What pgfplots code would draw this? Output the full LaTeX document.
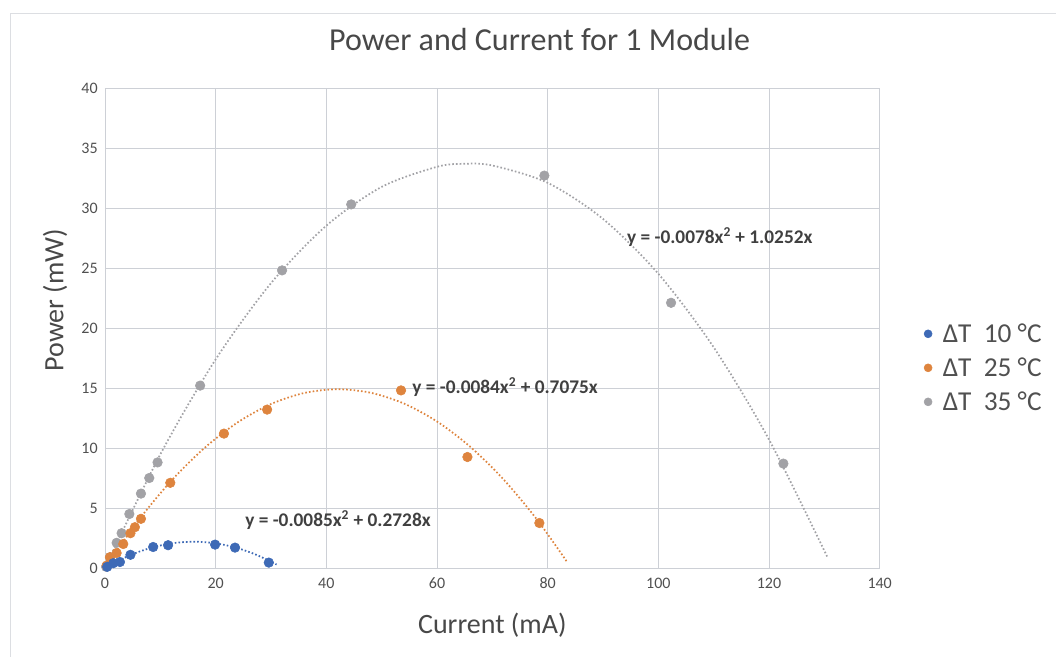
\documentclass[border=0pt]{standalone}
\usepackage{fontspec}
\setmainfont{Carlito}
\usepackage{pgfplots}
\pgfplotsset{compat=1.18}

\definecolor{sblue}{RGB}{62,106,182}
\definecolor{sorange}{RGB}{222,132,62}
\definecolor{sgray}{RGB}{162,162,166}
\definecolor{gridc}{RGB}{205,208,214}
\definecolor{txt}{RGB}{80,80,80}
\definecolor{eqc}{RGB}{64,64,64}

\begin{document}
\begin{tikzpicture}
% page frame (1px = 0.75pt)
\path[use as bounding box] (-78.75pt,-66.75pt) rectangle (713.25pt,426pt);
\draw[gridc!70, line width=0.8pt] (-71pt,416pt) -- (713.25pt,416pt);
\draw[gridc!70, line width=0.6pt] (-71pt,416pt) -- (-71pt,-66.75pt);

\begin{axis}[
  scale only axis,
  width=581pt, height=360pt,
  xmin=0, xmax=140, ymin=0, ymax=40,
  xtick={0,20,...,140}, ytick={0,5,...,40},
  grid=major,
  major grid style={gridc, line width=0.7pt},
  axis line style={gridc, line width=0.7pt},
  tick style={draw=none},
  /pgf/number format/assume math mode=true,
  ticklabel style={font=\fontsize{12}{12}\selectfont, text=txt},
  xticklabel style={yshift=-4pt},
  yticklabel style={xshift=-2pt},
  title={Power and Current for 1 Module},
  title style={at={(0.561,1)}, anchor=center, yshift=30pt,
    font=\fontsize{24}{24}\selectfont, text=txt!90!black},
  xlabel={Current (mA)},
  ylabel={Power (mW)},
  xlabel style={at={(0.5,0)}, anchor=center, yshift=-42.75pt,
    font=\fontsize{21}{21}\selectfont, text=txt!90!black},
  ylabel style={at={(-0.0645,0.558)}, anchor=center,
    font=\fontsize{21}{21}\selectfont, text=txt!90!black},
  legend style={at={(1.057,0.417)}, anchor=west, draw=none, fill=none,
    font=\fontsize{20.5}{20.5}\selectfont, text=txt, row sep=6pt,
    inner sep=0pt, nodes={inner xsep=8pt}},
  legend cell align=left,
  clip=false,
]
% trend lines
\addplot[sblue, line width=1.3pt, dash pattern=on 1.2pt off 1.6pt, smooth, forget plot] coordinates {
(0,0) (3,0.742) (6,1.331) (9,1.767) (12,2.050) (15,2.180) (18,2.156)
(21,1.980) (24,1.651) (27,1.169) (30,0.534) (31,0.288)};
\addplot[sorange, line width=1.3pt, dash pattern=on 1.2pt off 1.6pt, smooth, forget plot] coordinates {
(0,0) (6,3.943) (12,7.280) (18,10.013) (24,12.142) (30,13.665) (36,14.584)
(42,14.897) (48,14.606) (54,13.711) (60,12.210) (66,10.105) (72,7.394)
(78,4.079) (83.5,0.509)};
\addplot[sgray, line width=1.3pt, dash pattern=on 1.2pt off 1.6pt, smooth, forget plot] coordinates {
(0,0) (10,9.472) (20,17.384) (30,23.736) (40,28.528) (50,31.760) (60,33.432)
(65,33.683) (70,33.544) (80,32.096) (90,29.088) (100,24.520) (110,18.392)
(120,10.704) (130.5,0.96)};
% data
\addplot[only marks, mark=*, mark size=3.6pt, sgray, mark options={fill=sgray, draw=sgray}, forget plot] coordinates {
(0.2,0.1) (0.9,0.9) (2.1,2.1) (3.0,2.9) (4.4,4.5) (6.5,6.2) (8.0,7.5) (9.5,8.8)
(17.2,15.2) (32.0,24.8) (44.5,30.3) (79.4,32.7) (102.3,22.1) (122.6,8.7)};
\addplot[only marks, mark=*, mark size=3.6pt, sorange, mark options={fill=sorange, draw=sorange}, forget plot] coordinates {
(0.3,0.2) (0.9,0.9) (2.1,1.25) (3.3,2.0) (4.6,2.9) (5.4,3.4) (6.5,4.1)
(11.8,7.1) (21.5,11.2) (29.3,13.2) (53.5,14.8) (65.5,9.25) (78.5,3.75)};
\addplot[only marks, mark=*, mark size=3.6pt, sblue, mark options={fill=sblue, draw=sblue}, forget plot] coordinates {
(0.4,0.1) (1.5,0.4) (2.7,0.5) (4.6,1.1) (8.7,1.75) (11.4,1.9)
(19.9,1.95) (23.5,1.7) (29.6,0.45)};
% legend entries
\addlegendimage{only marks, mark=*, mark size=3pt, sblue}
\addlegendentry{ΔT\ \ 10 °C}
\addlegendimage{only marks, mark=*, mark size=3pt, sorange}
\addlegendentry{ΔT\ \ 25 °C}
\addlegendimage{only marks, mark=*, mark size=3pt, sgray}
\addlegendentry{ΔT\ \ 35 °C}
% equations
\node[anchor=west, inner sep=0pt, font=\bfseries\fontsize{14.5}{14.5}\selectfont, text=eqc] at (axis cs:25.3,4.0) {y = -0.0085x\textsuperscript{2} + 0.2728x};
\node[anchor=west, inner sep=0pt, font=\bfseries\fontsize{14.5}{14.5}\selectfont, text=eqc] at (axis cs:55.5,15.1) {y = -0.0084x\textsuperscript{2} + 0.7075x};
\node[anchor=west, inner sep=0pt, font=\bfseries\fontsize{14.5}{14.5}\selectfont, text=eqc] at (axis cs:94.3,27.6) {y = -0.0078x\textsuperscript{2} + 1.0252x};
\end{axis}
\end{tikzpicture}
\end{document}
